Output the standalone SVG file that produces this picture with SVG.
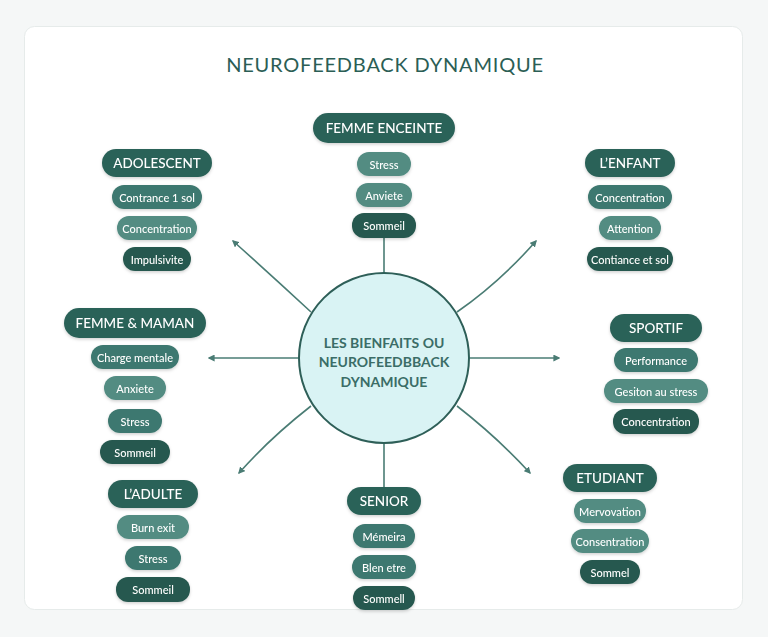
<svg xmlns="http://www.w3.org/2000/svg" width="768" height="637" viewBox="0 0 768 637">
<defs>
<style>
.t{font-family:Lato,"Noto Sans","Liberation Sans",sans-serif;text-anchor:middle;dominant-baseline:central}
.h rect{fill:#2c6259}
.h text{fill:#fff;font-size:13.5px;font-weight:500}
.s text{fill:#fff;font-size:11px;font-weight:500}
.m{fill:#3e786f}
.l{fill:#528c82}
.d{fill:#28594f}
.con{stroke:#4a7c74;stroke-width:1.6;fill:none}
</style>
<marker id="ar" viewBox="0 0 10 10" refX="8" refY="5" markerWidth="7" markerHeight="7" orient="auto-start-reverse" markerUnits="userSpaceOnUse">
<path d="M0,0 L10,5 L0,10 z" fill="#4a7c74"/>
</marker>
<filter id="sh" x="-20%" y="-30%" width="140%" height="170%">
<feDropShadow dx="0" dy="1.5" stdDeviation="1.5" flood-color="#000" flood-opacity="0.18"/>
</filter>
</defs>
<rect width="768" height="637" fill="#f5f7f7"/>
<rect x="24.5" y="26.5" width="718" height="583" rx="10" fill="#ffffff" stroke="#e6ebea"/>
<text class="t" x="385" y="64" font-size="20" fill="#2b5e55" letter-spacing="0.8">NEUROFEEDBACK DYNAMIQUE</text>

<g id="connectors">
<line class="con" x1="384" y1="238" x2="384" y2="273"/>
<line class="con" x1="384" y1="444" x2="384" y2="488"/>
<path class="con" d="M311,312 Q270,274 233,241" marker-end="url(#ar)"/>
<path class="con" d="M457,312 Q500,282 536,241" marker-end="url(#ar)"/>
<line class="con" x1="299" y1="358" x2="209" y2="358" marker-end="url(#ar)"/>
<line class="con" x1="469" y1="358" x2="559" y2="358" marker-end="url(#ar)"/>
<path class="con" d="M311,406 Q270,438 239,473" marker-end="url(#ar)"/>
<path class="con" d="M457,406 Q498,438 530,473" marker-end="url(#ar)"/>
</g>

<g id="center">
<circle cx="384" cy="358" r="85" fill="#d9f3f4" stroke="#2e5f58" stroke-width="2"/>
<text class="t" x="384" y="342" font-size="14" font-weight="bold" fill="#3b6d67">LES BIENFAITS OU</text>
<text class="t" x="384" y="361" font-size="14" font-weight="bold" fill="#3b6d67">NEUROFEEDBBACK</text>
<text class="t" x="384" y="381" font-size="14" font-weight="bold" fill="#3b6d67">DYNAMIQUE</text>
</g>

<g id="adolescent" class="t" filter="url(#sh)">
<g class="h"><rect x="102" y="149" width="110" height="28" rx="14"/><text x="157" y="163">ADOLESCENT</text></g>
<g class="s"><rect class="m" x="112" y="185" width="90" height="24" rx="12"/><text x="157" y="197">Contrance 1 sol</text></g>
<g class="s"><rect class="l" x="117" y="216" width="80" height="24" rx="12"/><text x="157" y="228">Concentration</text></g>
<g class="s"><rect class="d" x="123" y="247" width="68" height="24" rx="12"/><text x="157" y="259">Impulsivite</text></g>
</g>

<g id="femme-enceinte" class="t" filter="url(#sh)">
<g class="h"><rect x="313" y="113" width="142" height="30" rx="15"/><text x="384" y="128">FEMME ENCEINTE</text></g>
<g class="s"><rect class="l" x="357" y="152" width="54" height="24" rx="12"/><text x="384" y="164">Stress</text></g>
<g class="s"><rect class="l" x="356" y="183" width="56" height="24" rx="12"/><text x="384" y="195">Anviete</text></g>
<g class="s"><rect class="d" x="352" y="213" width="64" height="25" rx="12"/><text x="384" y="225">Sommeil</text></g>
</g>

<g id="enfant" class="t" filter="url(#sh)">
<g class="h"><rect x="585" y="149" width="90" height="28" rx="14"/><text x="630" y="163">L’ENFANT</text></g>
<g class="s"><rect class="m" x="588" y="185" width="84" height="24" rx="12"/><text x="630" y="197">Concentration</text></g>
<g class="s"><rect class="l" x="599" y="216" width="62" height="24" rx="12"/><text x="630" y="228">Attention</text></g>
<g class="s"><rect class="d" x="587" y="247" width="86" height="24" rx="12"/><text x="630" y="259">Contiance et sol</text></g>
</g>

<g id="femme-maman" class="t" filter="url(#sh)">
<g class="h"><rect x="64" y="308" width="142" height="30" rx="15"/><text x="135" y="323">FEMME &amp; MAMAN</text></g>
<g class="s"><rect class="m" x="91" y="345" width="88" height="24" rx="12"/><text x="135" y="357">Charge mentale</text></g>
<g class="s"><rect class="l" x="104" y="376" width="62" height="24" rx="12"/><text x="135" y="388">Anxiete</text></g>
<g class="s"><rect class="m" x="108" y="409" width="54" height="24" rx="12"/><text x="135" y="421">Stress</text></g>
<g class="s"><rect class="d" x="100" y="440" width="70" height="24" rx="12"/><text x="135" y="452">Sommeil</text></g>
</g>

<g id="sportif" class="t" filter="url(#sh)">
<g class="h"><rect x="610" y="314" width="92" height="28" rx="14"/><text x="656" y="328">SPORTIF</text></g>
<g class="s"><rect class="m" x="614" y="348" width="84" height="24" rx="12"/><text x="656" y="360">Performance</text></g>
<g class="s"><rect class="l" x="604" y="379" width="104" height="24" rx="12"/><text x="656" y="391">Gesiton au stress</text></g>
<g class="s"><rect class="d" x="613" y="409" width="86" height="25" rx="12"/><text x="656" y="421">Concentration</text></g>
</g>

<g id="adulte" class="t" filter="url(#sh)">
<g class="h"><rect x="108" y="480" width="90" height="28" rx="14"/><text x="153" y="494">L’ADULTE</text></g>
<g class="s"><rect class="l" x="117" y="515" width="72" height="24" rx="12"/><text x="153" y="527">Burn exit</text></g>
<g class="s"><rect class="m" x="125" y="546" width="56" height="24" rx="12"/><text x="153" y="558">Stress</text></g>
<g class="s"><rect class="d" x="116" y="577" width="74" height="25" rx="12"/><text x="153" y="589">Sommeil</text></g>
</g>

<g id="senior" class="t" filter="url(#sh)">
<g class="h"><rect x="347" y="487" width="74" height="28" rx="14"/><text x="384" y="501">SENIOR</text></g>
<g class="s"><rect class="m" x="353" y="524" width="62" height="24" rx="12"/><text x="384" y="536">Mémeira</text></g>
<g class="s"><rect class="m" x="352" y="555" width="64" height="24" rx="12"/><text x="384" y="567">Blen etre</text></g>
<g class="s"><rect class="d" x="353" y="586" width="62" height="24" rx="12"/><text x="384" y="598">Sommell</text></g>
</g>

<g id="etudiant" class="t" filter="url(#sh)">
<g class="h"><rect x="563" y="464" width="94" height="28" rx="14"/><text x="610" y="478">ETUDIANT</text></g>
<g class="s"><rect class="l" x="574" y="499" width="72" height="24" rx="12"/><text x="610" y="511">Mervovation</text></g>
<g class="s"><rect class="l" x="571" y="529" width="78" height="24" rx="12"/><text x="610" y="541">Consentration</text></g>
<g class="s"><rect class="d" x="580" y="560" width="60" height="24" rx="12"/><text x="610" y="572">Sommel</text></g>
</g>
</svg>
